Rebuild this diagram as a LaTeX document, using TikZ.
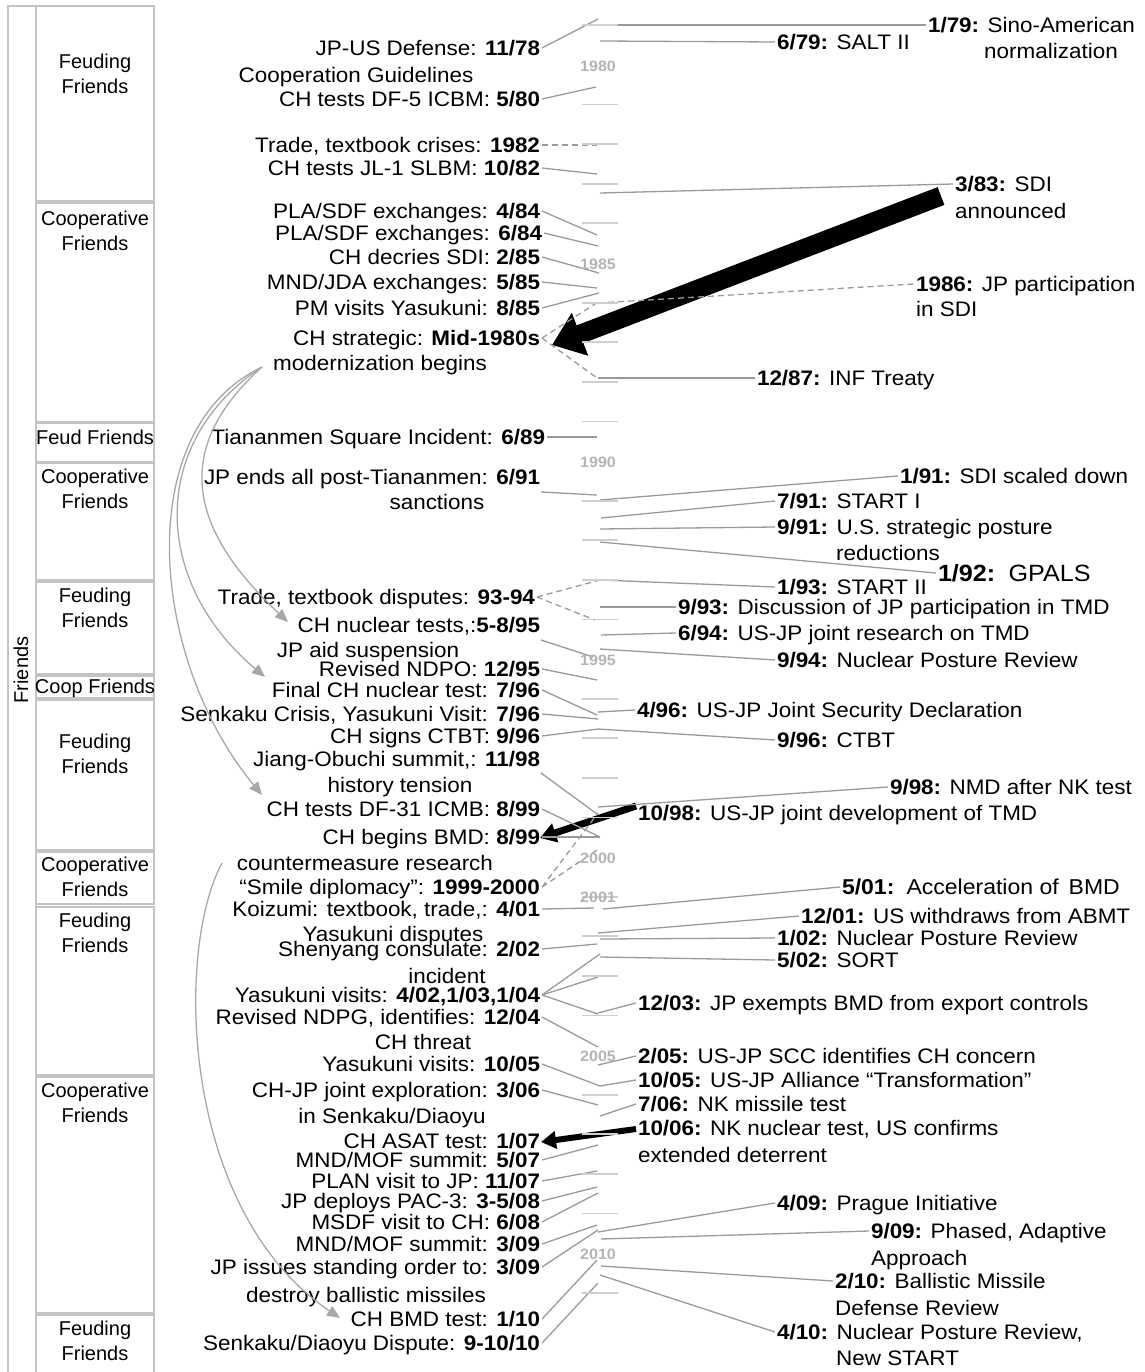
\documentclass[tikz,border=0pt]{standalone}
\usepackage{fontspec}
\setmainfont{Liberation Sans}[FakeStretch=1.07]
\newfontfamily\boxfont{Liberation Sans}
\usetikzlibrary{arrows.meta}
\definecolor{connc}{HTML}{9A9A9A}
\definecolor{tickc}{HTML}{CFCFCF}
\definecolor{yrc}{HTML}{B4B4B4}
\definecolor{boxc}{HTML}{C4C4C4}
\definecolor{curvec}{HTML}{A8A8A8}
\begin{document}
\begin{tikzpicture}[x=1pt,y=-1pt,
  evt/.style={anchor=east, inner sep=0pt, outer sep=2pt, text height=15pt, text depth=0pt, font=\fontsize{21}{24}\selectfont},
  rvt/.style={anchor=west, inner sep=0pt, outer sep=2pt, text height=15pt, text depth=0pt, font=\fontsize{21}{24}\selectfont},
  sub/.style={anchor=center, inner sep=0pt, text height=15pt, text depth=0pt, font=\fontsize{21}{24}\selectfont},
  rsub/.style={anchor=west, inner sep=0pt, text height=15pt, text depth=0pt, font=\fontsize{21}{24}\selectfont},
  cn/.style={draw=connc, line width=1.3pt},
  cnd/.style={draw=connc, line width=1.3pt, dash pattern=on 6pt off 4pt},
  tk/.style={draw=tickc, line width=1.8pt},
  yr/.style={text=yrc, inner sep=0pt, font=\bfseries\fontsize{15}{15}\selectfont},
  bx/.style={draw=boxc, line width=1.8pt},
  bxl/.style={align=center, inner sep=0pt, font=\boxfont\fontsize{20}{25}\selectfont},
  curv/.style={draw=curvec, line width=1.3pt, -{Triangle[length=13pt,width=11pt]}, fill=none},
  bigarrow/.style={draw=black, line width=#1, -{Triangle[length=30pt,width=44pt]}},
]
\path[use as bounding box] (0,0) rectangle (1144,1372);

% ---------- left column boxes ----------
\draw[bx] (8,1372) -- (8,6) -- (36,6) -- (36,1372);
\node[rotate=90, inner sep=0pt, font=\boxfont\fontsize{20}{24}\selectfont] (fr) at (21,670) {Friends};
\draw[bx] (36,6) rectangle (154,201);
\draw[bx] (36,203) rectangle (154,422);
\draw[bx] (36,423) rectangle (154,462);
\draw[bx] (36,463) rectangle (154,580);
\draw[bx] (36,582) rectangle (154,674);
\draw[bx] (36,676) rectangle (154,698);
\draw[bx] (36,700) rectangle (154,850);
\draw[bx] (36,852) rectangle (154,904);
\draw[bx] (36,907) rectangle (154,1075);
\draw[bx] (36,1077) rectangle (154,1313);
\draw[bx] (36,1372) -- (36,1315) -- (154,1315) -- (154,1372);
\node[bxl] (b1) at (95,74) {Feuding\\Friends};
\node[bxl] (b2) at (95,231) {Cooperative\\Friends};
\node[bxl] (b3) at (95,437) {Feud Friends};
\node[bxl] (b4) at (95,489) {Cooperative\\Friends};
\node[bxl] (b5) at (95,608) {Feuding\\Friends};
\node[bxl] (b6) at (95,688) {Coop Friends};
\node[bxl] (b7) at (95,754) {Feuding\\Friends};
\node[bxl] (b8) at (95,877) {Cooperative\\Friends};
\node[bxl] (b9) at (95,933) {Feuding\\Friends};
\node[bxl] (b10) at (95,1103) {Cooperative\\Friends};
\node[bxl] (b11) at (95,1341) {Feuding\\Friends};

% ---------- left events ----------
\node[evt] (e1) at (542,48) {JP-US Defense: \textbf{11/78}};
\node[sub] (e1b) at (356,75) {Cooperation Guidelines};
\node[evt] (e2) at (542,99) {CH tests DF-5 ICBM: \textbf{5/80}};
\node[evt] (e3) at (542,145) {Trade, textbook crises: \textbf{1982}};
\node[evt] (e4) at (542,168) {CH tests JL-1 SLBM: \textbf{10/82}};
\node[evt] (e5) at (542,211) {PLA/SDF exchanges: \textbf{4/84}};
\node[evt] (e6) at (544,233) {PLA/SDF exchanges: \textbf{6/84}};
\node[evt] (e7) at (542,257) {CH decries SDI: \textbf{2/85}};
\node[evt] (e8) at (542,282) {MND/JDA exchanges: \textbf{5/85}};
\node[evt] (e9) at (542,308) {PM visits Yasukuni: \textbf{8/85}};
\node[evt] (e10) at (542,338) {CH strategic: \textbf{Mid-1980s}};
\node[sub] (e10b) at (380,363) {modernization begins};
\node[evt] (e11) at (547,437) {Tiananmen Square Incident: \textbf{6/89}};
\node[evt] (e12) at (542,477) {JP ends all post-Tiananmen: \textbf{6/91}};
\node[sub] (e12b) at (437,502) {sanctions};
\node[evt] (e13) at (537,597) {Trade, textbook disputes: \textbf{93-94}};
\node[evt] (e14) at (542,625) {CH nuclear tests,:\textbf{5-8/95}};
\node[sub] (e14b) at (368,650) {JP aid suspension};
\node[evt] (e15) at (542,669) {Revised NDPO: \textbf{12/95}};
\node[evt] (e16) at (542,690) {Final CH nuclear test: \textbf{7/96}};
\node[evt] (e17) at (542,714) {Senkaku Crisis, Yasukuni Visit: \textbf{7/96}};
\node[evt] (e18) at (542,736) {CH signs CTBT: \textbf{9/96}};
\node[evt] (e19) at (542,759) {Jiang-Obuchi summit,: \textbf{11/98}};
\node[sub] (e19b) at (400,785) {history tension};
\node[evt] (e20) at (542,809) {CH tests DF-31 ICMB: \textbf{8/99}};
\node[evt] (e21) at (542,837) {CH begins BMD: \textbf{8/99}};
\node[sub] (e21b) at (365,863) {countermeasure research};
\node[evt] (e22) at (542,887) {“Smile diplomacy”: \textbf{1999-2000}};
\node[evt] (e23) at (542,909) {Koizumi: textbook, trade,: \textbf{4/01}};
\node[sub] (e23b) at (393,934) {Yasukuni disputes};
\node[evt] (e24) at (542,949) {Shenyang consulate: \textbf{2/02}};
\node[sub] (e24b) at (447,976) {incident};
\node[evt] (e25) at (542,995) {Yasukuni visits: \textbf{4/02,1/03,1/04}};
\node[evt] (e26) at (542,1017) {Revised NDPG, identifies: \textbf{12/04}};
\node[sub] (e26b) at (423,1042) {CH threat};
\node[evt] (e27) at (542,1064) {Yasukuni visits: \textbf{10/05}};
\node[evt] (e28) at (542,1090) {CH-JP joint exploration: \textbf{3/06}};
\node[sub] (e28b) at (392,1116) {in Senkaku/Diaoyu};
\node[evt] (e29) at (542,1141) {CH ASAT test: \textbf{1/07}};
\node[evt] (e30) at (542,1160) {MND/MOF summit: \textbf{5/07}};
\node[evt] (e31) at (542,1181) {PLAN visit to JP: \textbf{11/07}};
\node[evt] (e32) at (542,1201) {JP deploys PAC-3: \textbf{3-5/08}};
\node[evt] (e33) at (542,1222) {MSDF visit to CH: \textbf{6/08}};
\node[evt] (e34) at (542,1244) {MND/MOF summit: \textbf{3/09}};
\node[evt] (e35) at (542,1267) {JP issues standing order to: \textbf{3/09}};
\node[sub] (e35b) at (366,1295) {destroy ballistic missiles};
\node[evt] (e36) at (542,1319) {CH BMD test: \textbf{1/10}};
\node[evt] (e37) at (542,1343) {Senkaku/Diaoyu Dispute: \textbf{9-10/10}};

% ---------- right events ----------
\node[rvt] (r1) at (926,25) {\textbf{1/79:} Sino-American};
\node[rsub] (r1b) at (984,51) {normalization};
\node[rvt] (r2) at (775,42) {\textbf{6/79:} SALT II};
\node[rvt] (r3) at (953,184) {\textbf{3/83:} SDI};
\node[rsub] (r3b) at (955,211) {announced};
\node[rvt] (r4) at (914,284) {\textbf{1986:} JP participation};
\node[rsub] (r4b) at (916,309) {in SDI};
\node[rvt] (r5) at (755,378) {\textbf{12/87:} INF Treaty};
\node[rvt] (r6) at (898,476) {\textbf{1/91:} SDI scaled down};
\node[rvt] (r7) at (775,501) {\textbf{7/91:} START I};
\node[rvt] (r8) at (775,527) {\textbf{9/91:} U.S. strategic posture};
\node[rsub] (r8b) at (836,553) {reductions};
\node[rvt, text height=17pt, font=\fontsize{23.5}{26}\selectfont] (r9) at (936,573) {\textbf{1/92:}\, GPALS};
\node[rvt] (r10) at (775,587) {\textbf{1/93:} START II};
\node[rvt] (r11) at (676,607) {\textbf{9/93:} Discussion of JP participation in TMD};
\node[rvt] (r12) at (676,633) {\textbf{6/94:} US-JP joint research on TMD};
\node[rvt] (r13) at (775,660) {\textbf{9/94:} Nuclear Posture Review};
\node[rvt] (r14) at (635,710) {\textbf{4/96:} US-JP Joint Security Declaration};
\node[rvt] (r15) at (775,740) {\textbf{9/96:} CTBT};
\node[rvt] (r16) at (888,787) {\textbf{9/98:} NMD after NK test};
\node[rvt] (r17) at (636,813) {\textbf{10/98:} US-JP joint development of TMD};
\node[rvt, font=\fontsize{21.5}{25}\selectfont] (r18) at (840,887) {\textbf{5/01:}\, Acceleration of\, BMD};
\node[rvt] (r19) at (799,916) {\textbf{12/01:} US withdraws from ABMT};
\node[rvt] (r20) at (775,938) {\textbf{1/02:} Nuclear Posture Review};
\node[rvt] (r21) at (775,960) {\textbf{5/02:} SORT};
\node[rvt] (r22) at (636,1003) {\textbf{12/03:} JP exempts BMD from export controls};
\node[rvt] (r23) at (636,1056) {\textbf{2/05:} US-JP SCC identifies CH concern};
\node[rvt] (r24) at (636,1080) {\textbf{10/05:} US-JP Alliance “Transformation”};
\node[rvt] (r25) at (636,1104) {\textbf{7/06:} NK missile test};
\node[rvt] (r26) at (636,1128) {\textbf{10/06:} NK nuclear test, US confirms};
\node[rsub] (r26b) at (638,1155) {extended deterrent};
\node[rvt] (r27) at (775,1203) {\textbf{4/09:} Prague Initiative};
\node[rvt] (r28) at (869,1231) {\textbf{9/09:} Phased, Adaptive};
\node[rsub] (r28b) at (871,1258) {Approach};
\node[rvt] (r29) at (833,1281) {\textbf{2/10:} Ballistic Missile};
\node[rsub] (r29b) at (835,1308) {Defense Review};
\node[rvt] (r30) at (775,1332) {\textbf{4/10:} Nuclear Posture Review,};
\node[rsub] (r30b) at (836,1358) {New START};

% ---------- timeline points ----------
\coordinate (p1) at (598,19);   \coordinate (p2) at (596,87);
\coordinate (p3) at (597,145);  \coordinate (p4) at (597,174);
\coordinate (p5) at (597,235);  \coordinate (p6) at (598,246);
\coordinate (p7) at (599,273);  \coordinate (p8) at (597,288);
\coordinate (p9) at (599,293);  \coordinate (p10a) at (598,302);
\coordinate (p10b) at (597,378);\coordinate (p11) at (597,437);
\coordinate (s12) at (541,492); \coordinate (p12) at (597,495);
\coordinate (p13a) at (600,580);\coordinate (p13b) at (595,620);
\coordinate (s14) at (541,640); \coordinate (p14) at (593,657);
\coordinate (p15) at (597,680); \coordinate (p16) at (597,715);
\coordinate (p17) at (598,719); \coordinate (p18) at (598,729);
\coordinate (s19) at (541,773); \coordinate (p19) at (597,814);
\coordinate (p20) at (600,837); \coordinate (p21) at (600,837);
\coordinate (p22a) at (598,813);\coordinate (p22b) at (600,848);
\coordinate (p23) at (594,908); \coordinate (p24) at (597,944);
\coordinate (p25a) at (600,954);\coordinate (p25b) at (598,977);
\coordinate (p25c) at (598,1014);\coordinate (p26) at (598,1047);
\coordinate (p27) at (600,1086);\coordinate (p28) at (598,1105);
\coordinate (p30) at (598,1145);\coordinate (p31) at (597,1171);
\coordinate (p32) at (597,1187);\coordinate (p33) at (598,1193);
\coordinate (p34) at (597,1225);\coordinate (p35) at (598,1230);
\coordinate (p36) at (597,1260);\coordinate (p37) at (598,1283);
% right side
\coordinate (q1) at (600,25);   \coordinate (q2) at (600,41);
\coordinate (q3) at (600,193);  \coordinate (q4) at (598,303);
\coordinate (q5) at (598,378);  \coordinate (q6) at (600,500);
\coordinate (q7) at (601,518);  \coordinate (q8) at (600,529);
\coordinate (q9) at (600,542);  \coordinate (q10) at (600,580);
\coordinate (q11) at (600,607); \coordinate (q12) at (601,635);
\coordinate (q13) at (600,649); \coordinate (q14) at (598,712);
\coordinate (q15) at (598,729); \coordinate (q16) at (598,807);
\coordinate (q18) at (603,909); \coordinate (q19) at (598,933);
\coordinate (q20) at (600,939); \coordinate (q21) at (600,957);
\coordinate (q22) at (598,1013);\coordinate (q23) at (598,1065);
\coordinate (q24) at (600,1086);\coordinate (q25) at (600,1116);
\coordinate (q27) at (598,1232);\coordinate (q28) at (601,1239);
\coordinate (q29) at (601,1266);\coordinate (q30) at (600,1275);
% arrow ends
\coordinate (a1t) at (941,196);  \coordinate (a1h) at (552,345);
\coordinate (a2t) at (636,806);  \coordinate (a2h) at (540,838);
\coordinate (a3t) at (636,1129); \coordinate (a3h) at (541,1142);
\coordinate (cs) at (262,367);
\coordinate (ch1) at (288,622); \coordinate (ch2) at (265,677);
\coordinate (ch3) at (262,795); \coordinate (cs4) at (222,863);
\coordinate (ch4) at (340,1318);

% ---------- black arrows ----------
\draw[bigarrow=19pt] (a1t) -- (a1h);
\draw[draw=black, line width=7pt, -{Triangle[length=16pt,width=19pt]}] (a2t) -- (a2h);
\draw[draw=black, line width=6pt, -{Triangle[length=15pt,width=17pt]}] (a3t) -- (a3h);

% ---------- connectors left ----------
\draw[cn] (e1.east) -- (p1);
\draw[cn] (e2.east) -- (p2);
\draw[cnd] (e3.east) -- (p3);
\draw[cn] (e4.east) -- (p4);
\draw[cn] (e5.east) -- (p5);
\draw[cn] (e6.east) -- (p6);
\draw[cn] (e7.east) -- (p7);
\draw[cn] (e8.east) -- (p8);
\draw[cn] (e9.east) -- (p9);
\draw[cnd] (e10.east) -- (p10a);
\draw[cnd] (e10.east) -- (p10b);
\draw[cn] (e11.east) -- (p11);
\draw[cn] (s12) -- (p12);
\draw[cnd] (e13.east) -- (p13a);
\draw[cnd] (e13.east) -- (p13b);
\draw[cn] (s14) -- (p14);
\draw[cn] (e15.east) -- (p15);
\draw[cn] (e16.east) -- (p16);
\draw[cn] (e17.east) -- (p17);
\draw[cn] (e18.east) -- (p18);
\draw[cn] (s19) -- (p19);
\draw[cn] (e20.east) -- (p20);
\draw[cn] (e21.east) -- (p21);
\draw[cnd] (e22.east) -- (p22a);
\draw[cnd] (e22.east) -- (p22b);
\draw[cn] (e23.east) -- (p23);
\draw[cn] (e24.east) -- (p24);
\draw[cn] (e25.east) -- (p25a);
\draw[cn] (e25.east) -- (p25b);
\draw[cn] (e25.east) -- (p25c);
\draw[cn] (e26.east) -- (p26);
\draw[cn] (e27.east) -- (p27);
\draw[cn] (e28.east) -- (p28);
\draw[cn] (e30.east) -- (p30);
\draw[cn] (e31.east) -- (p31);
\draw[cn] (e32.east) -- (p32);
\draw[cn] (e33.east) -- (p33);
\draw[cn] (e34.east) -- (p34);
\draw[cn] (e35.east) -- (p35);
\draw[cn] (e36.east) -- (p36);
\draw[cn] (e37.east) -- (p37);

% ---------- connectors right ----------
\draw[cn] (q1) -- (r1.west);
\draw[cn] (q2) -- (r2.west);
\draw[cn] (q3) -- (r3.west);
\draw[cnd] (q4) -- (r4.west);
\draw[cn] (q5) -- (r5.west);
\draw[cn] (q6) -- (r6.west);
\draw[cn] (q7) -- (r7.west);
\draw[cn] (q8) -- (r8.west);
\draw[cn] (q9) -- (r9.west);
\draw[cn] (q10) -- (r10.west);
\draw[cn] (q11) -- (r11.west);
\draw[cn] (q12) -- (r12.west);
\draw[cn] (q13) -- (r13.west);
\draw[cn] (q14) -- (r14.west);
\draw[cn] (q15) -- (r15.west);
\draw[cn] (q16) -- (r16.west);
\draw[cn] (q18) -- (r18.west);
\draw[cn] (q19) -- (r19.west);
\draw[cn] (q20) -- (r20.west);
\draw[cn] (q21) -- (r21.west);
\draw[cn] (q22) -- (r22.west);
\draw[cn] (q23) -- (r23.west);
\draw[cn] (q24) -- (r24.west);
\draw[cn] (q25) -- (r25.west);
\draw[cn] (q27) -- (r27.west);
\draw[cn] (q28) -- (r28.west);
\draw[cn] (q29) -- (r29.west);
\draw[cn] (q30) -- (r30.west);

% ---------- curved gray arrows ----------
\draw[curv] (cs) .. controls (170,450) and (190,530) .. (ch1);
\draw[curv] (cs) .. controls (150,440) and (150,580) .. (ch2);
\draw[curv] (cs) .. controls (130,430) and (150,660) .. (ch3);
\draw[curv] (cs4) .. controls (175,950) and (180,1210) .. (ch4);

% ---------- ticks and year labels ----------
\foreach \yy in {1979,1981,1982,1983,1984,1986,1987,1988,1989,1991,1992,1993,1994,1996,1997,1998,1999,2001,2002,2003,2004,2006,2007,2008,2009,2011}{
  \draw[tk] (582,{65+(\yy-1980)*39.6}) -- (618,{65+(\yy-1980)*39.6});
}
\foreach \yy in {1980,1985,1990,1995,2000,2001,2005,2010}{
  \node[yr] (y\yy) at (598,{66+(\yy-1980)*39.6}) {\yy};
}
\end{tikzpicture}
\end{document}
